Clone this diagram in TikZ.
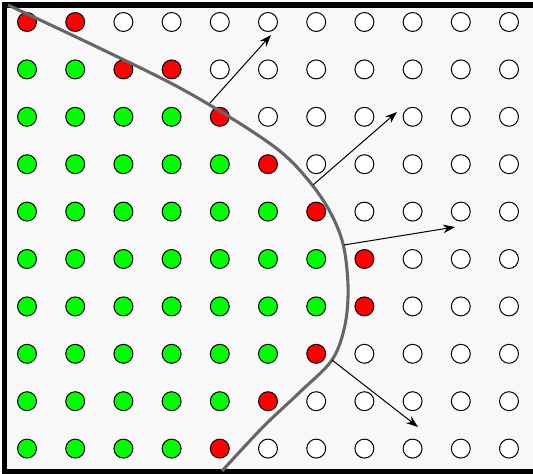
\documentclass[tikz,border=0pt]{standalone}
\usetikzlibrary{arrows.meta}
\definecolor{bgc}{HTML}{F8F8F8}
\definecolor{gc}{HTML}{00FF00}
\definecolor{rc}{HTML}{FF0000}
\definecolor{curvec}{HTML}{666666}
\tikzset{
  dot/.style={circle, draw=black, line width=0.75pt, minimum size=14.2pt, inner sep=0pt},
  gdot/.style={dot, fill=gc},
  rdot/.style={dot, fill=rc},
  wdot/.style={dot, fill=white},
  boundary/.style={draw=curvec, line width=2.3pt},
  normal/.style={draw=black, line width=0.75pt, -{Stealth[length=9pt, width=6.5pt, inset=3pt]}},
}
\begin{document}
\begin{tikzpicture}[x=0.75pt, y=-0.75pt]
\useasboundingbox (0,0) rectangle (533,474);
\begin{scope}
\clip (0,0) rectangle (533,474);
\fill[bgc] (4.5,5) rectangle (545,471.5);
\draw[line width=3.8pt] (545,5) -- (4.5,5) -- (4.5,471.5) -- (545,471.5);
% grid of dots: per row, number of green dots and range of red dots
\foreach \r/\g/\ra/\rb in {0/0/0/1, 1/2/2/3, 2/4/4/4, 3/5/5/5, 4/6/6/6, 5/7/7/7, 6/7/7/7, 7/6/6/6, 8/5/5/5, 9/4/4/4}{
  \foreach \c in {0,...,10}{
    \pgfmathsetmacro{\xx}{27+48.2*\c}
    \pgfmathsetmacro{\yy}{22+47.4*\r}
    \ifnum\c<\g
      \node[gdot] (d-\r-\c) at (\xx,\yy) {};
    \else
      \ifnum\c>\rb
        \node[wdot] (d-\r-\c) at (\xx,\yy) {};
      \else
        \node[rdot] (d-\r-\c) at (\xx,\yy) {};
      \fi
    \fi
  }
}
% boundary curve
\draw[boundary] plot[smooth, tension=0.55] coordinates {(8,5) (95,46) (180,88) (250,130) (290,160) (323,200) (342,240) (348,285) (345,325) (332,360) (300,392) (263,427) (222,471)};
% normals
\coordinate (s1) at (210,103);
\coordinate (e1) at (271,35);
\coordinate (s2) at (313,185);
\coordinate (e2) at (397,112);
\coordinate (s3) at (344,245);
\coordinate (e3) at (455,227);
\coordinate (s4) at (332,360);
\coordinate (e4) at (418,427);
\draw[normal] (s1) -- (e1);
\draw[normal] (s2) -- (e2);
\draw[normal] (s3) -- (e3);
\draw[normal] (s4) -- (e4);
\end{scope}
\end{tikzpicture}
\end{document}
